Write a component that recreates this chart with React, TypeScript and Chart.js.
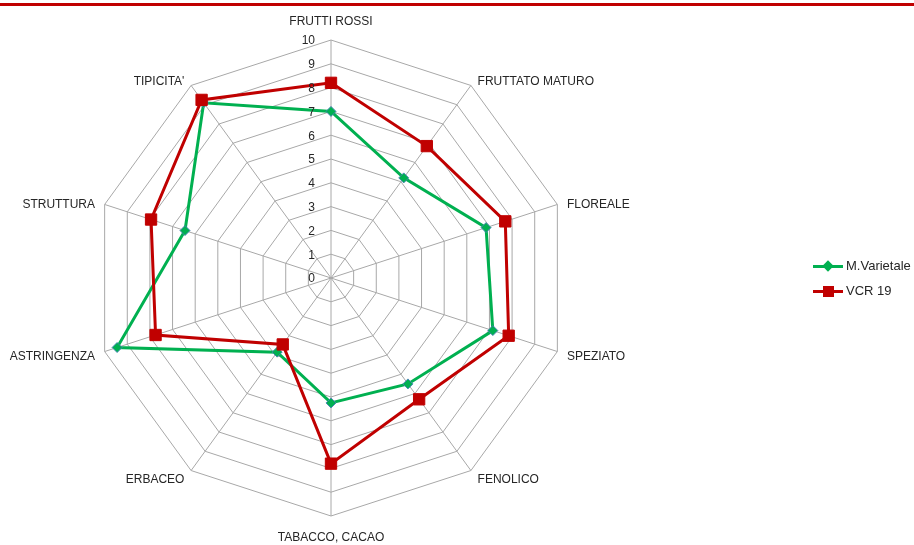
import React, { useEffect, useRef } from "react";
import { Chart, registerables } from "chart.js";

Chart.register(...registerables);

const categories = [
  "FRUTTI ROSSI",
  "FRUTTATO MATURO",
  "FLOREALE",
  "SPEZIATO",
  "FENOLICO",
  "TABACCO, CACAO",
  "ERBACEO",
  "ASTRINGENZA",
  "STRUTTURA",
  "TIPICITA'",
];
const varietale = [7, 5.2, 6.85, 7.15, 5.5, 5.25, 3.85, 9.45, 6.45, 9.1];
const vcr19 = [8.2, 6.85, 7.7, 7.85, 6.3, 7.8, 3.45, 7.75, 7.95, 9.25];
const tickValues = [0, 1, 2, 3, 4, 5, 6, 7, 8, 9, 10];
const seriesNames = ["M.Varietale", "VCR 19"];

const FONT = '"Liberation Sans", Arial, sans-serif';
const TEXT = "#262626";
const GREEN = "#00b050";
const RED = "#c00000";
const GRID = "#a8a8a8";

const labelPlugin = {
  id: "excelLabels",
  afterDraw(chart: any) {
    const scale = chart.scales.r;
    const ctx = chart.ctx;
    const R = scale.drawingArea;
    ctx.save();
    ctx.font = `12px ${FONT}`;
    ctx.fillStyle = TEXT;
    ctx.textBaseline = "middle";
    const gap = 8;
    categories.forEach((label, i) => {
      const p = scale.getPointPosition(i, R);
      const ang = scale.getIndexAngle(i);
      const s = Math.sin(ang);
      const c = Math.cos(ang);
      const ax = p.x + gap * s;
      const ay = p.y - gap * c + 1.5;
      if (Math.abs(s) < 1e-6) {
        ctx.textAlign = "center";
        ctx.fillText(label, ax, ay - c * 12);
      } else if (s > 0) {
        ctx.textAlign = "left";
        ctx.fillText(label, ax + 2, ay + 1);
      } else {
        ctx.textAlign = "right";
        ctx.fillText(label, ax - 2, ay + 1);
      }
    });
    ctx.textAlign = "right";
    tickValues.forEach((v) => {
      const d = scale.getDistanceFromCenterForValue(v);
      ctx.fillText(String(v), scale.xCenter - 16, scale.yCenter - d + 1);
    });
    ctx.restore();
  },
};

export default function App() {
  const ref = useRef<HTMLCanvasElement>(null);

  useEffect(() => {
    if (!ref.current) return;
    const chart = new Chart(ref.current, {
      type: "radar",
      data: {
        labels: categories,
        datasets: [
          {
            label: seriesNames[0],
            data: varietale,
            borderColor: GREEN,
            backgroundColor: GREEN,
            borderWidth: 3,
            pointStyle: "rectRot",
            pointRadius: 5,
            pointBackgroundColor: GREEN,
            pointBorderColor: "rgba(70,130,180,0.9)",
            pointBorderWidth: 1,
            fill: false,
            order: 1,
          },
          {
            label: seriesNames[1],
            data: vcr19,
            borderColor: RED,
            backgroundColor: RED,
            borderWidth: 3,
            pointStyle: "rect",
            pointRadius: 8,
            pointBackgroundColor: RED,
            pointBorderColor: RED,
            pointBorderWidth: 1,
            fill: false,
            order: 0,
          },
        ],
      },
      options: {
        responsive: false,
        animation: false,
        layout: { padding: { left: 93, right: 345, top: 40, bottom: 29 } },
        plugins: {
          legend: { display: false },
          tooltip: { enabled: false },
        },
        elements: { line: { tension: 0 } },
        scales: {
          r: {
            min: 0,
            max: 10,
            ticks: { display: false, stepSize: 1 },
            pointLabels: { display: false },
            grid: { color: GRID, lineWidth: 1 },
            angleLines: { color: GRID, lineWidth: 1 },
          },
        },
      },
      plugins: [labelPlugin],
    });
    return () => chart.destroy();
  }, []);

  const legendText: React.CSSProperties = {
    position: "absolute",
    left: 846,
    fontFamily: FONT,
    fontSize: 13,
    lineHeight: "16px",
    color: TEXT,
    whiteSpace: "nowrap",
  };

  return (
    <div
      style={{
        position: "absolute",
        left: 0,
        top: 0,
        width: 914,
        height: 545,
        background: "#ffffff",
        overflow: "hidden",
      }}
    >
      <div
        style={{
          position: "absolute",
          left: 0,
          top: 3,
          width: 914,
          height: 3,
          background: RED,
        }}
      />
      <canvas
        ref={ref}
        width={914}
        height={545}
        style={{ position: "absolute", left: 0, top: 0, width: 914, height: 545 }}
      />
      {/* legend */}
      <div style={{ position: "absolute", left: 813, top: 265, width: 30, height: 3, background: GREEN }} />
      <div
        style={{
          position: "absolute",
          left: 824,
          top: 262,
          width: 8,
          height: 8,
          background: GREEN,
          transform: "rotate(45deg)",
        }}
      />
      <div style={{ ...legendText, top: 258 }}>{seriesNames[0]}</div>
      <div style={{ position: "absolute", left: 813, top: 290, width: 30, height: 3, background: RED }} />
      <div style={{ position: "absolute", left: 823, top: 286, width: 11, height: 11, background: RED }} />
      <div style={{ ...legendText, top: 283 }}>{seriesNames[1]}</div>
    </div>
  );
}
